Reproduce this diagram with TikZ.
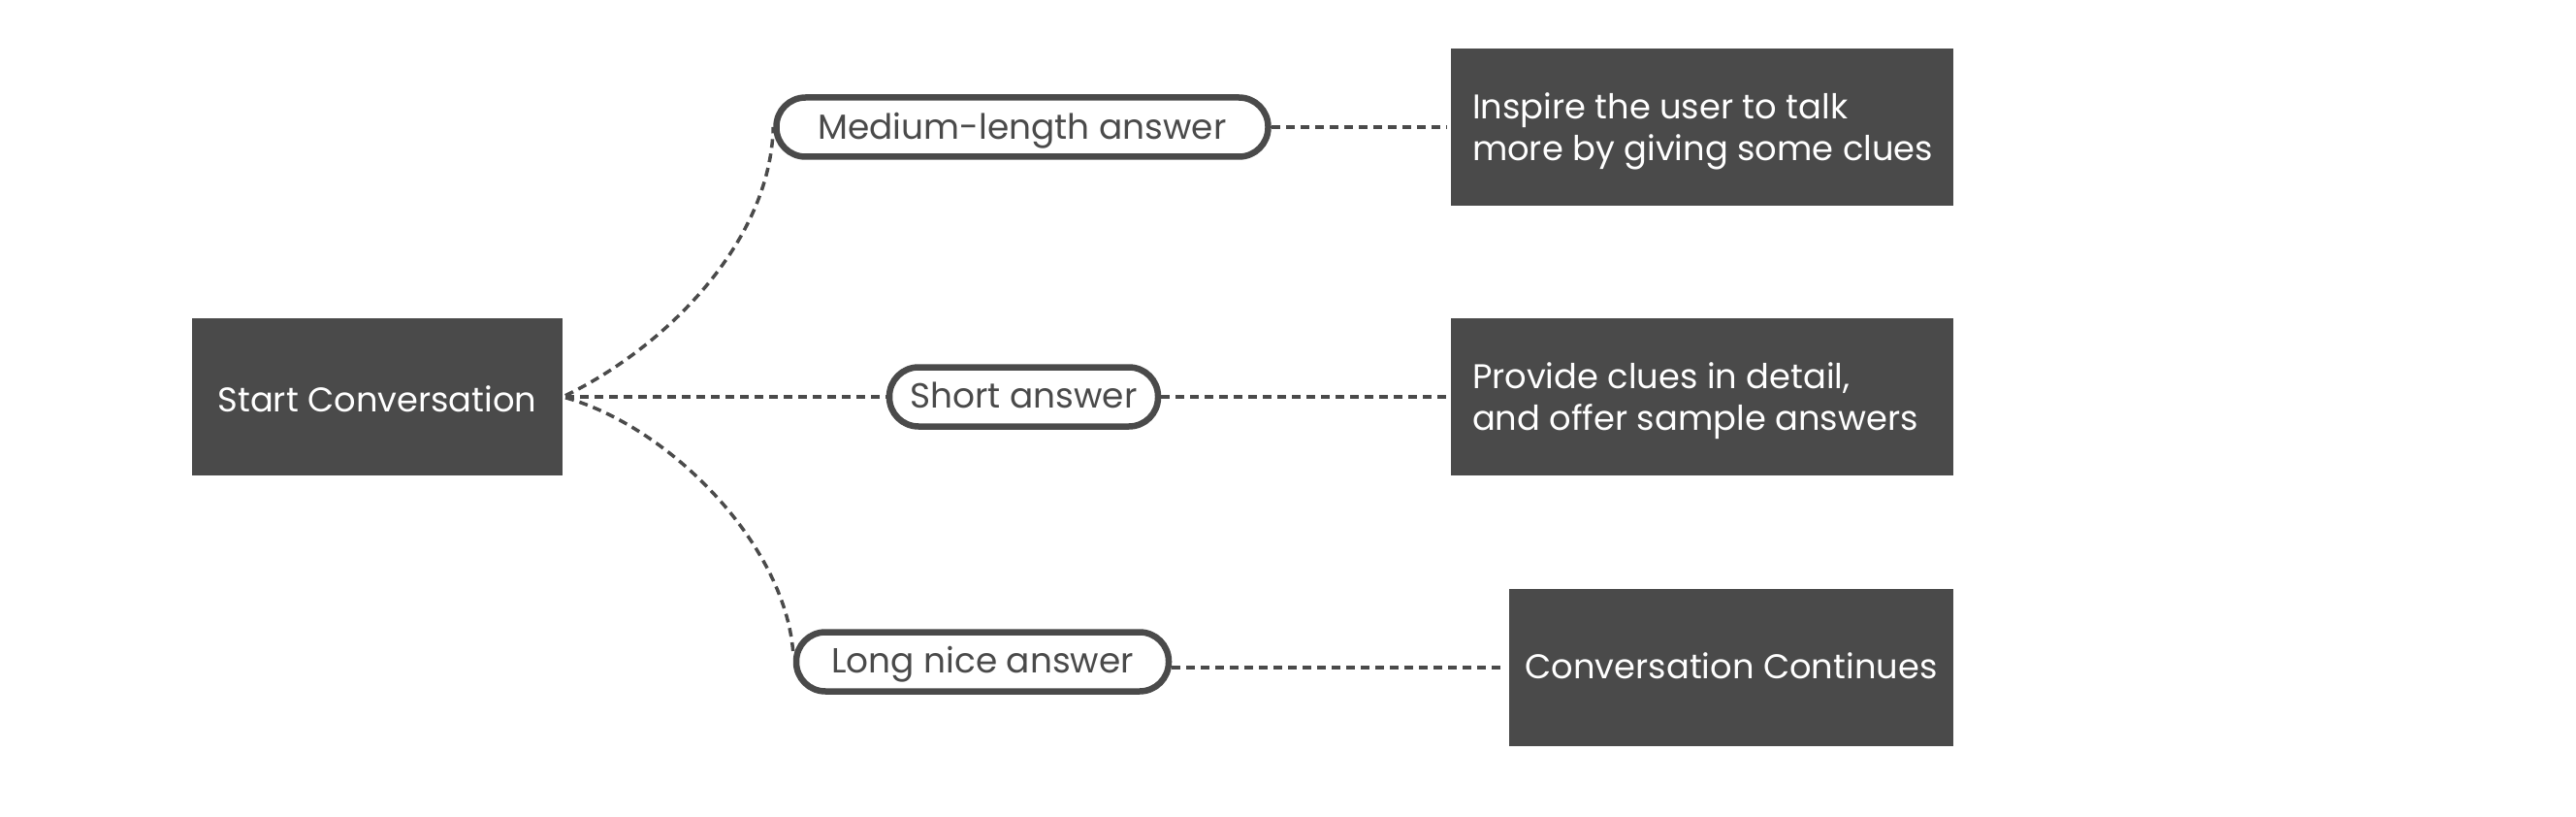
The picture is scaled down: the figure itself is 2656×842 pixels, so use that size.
\documentclass[tikz,border=0pt]{standalone}
\usepackage{fontspec}
\setmainfont{Poppins}
\definecolor{ink}{HTML}{4A4A4A}
\newlength\calw
\AtBeginDocument{%
  \settowidth\calw{\normalfont\fontsize{10pt}{12pt}\selectfont Conversation Continues}%
  \pgfmathsetmacro\boxfs{4250/\calw}%
  \global\let\boxfs\boxfs
  \settowidth\calw{\normalfont\fontsize{10pt}{12pt}\selectfont Medium-length answer}%
  \pgfmathsetmacro\pillfs{4210/\calw}%
  \global\let\pillfs\pillfs
}
\tikzset{
  darkbox/.style={fill=ink, draw=none, inner sep=0pt, minimum height=162pt,
                  text height=22pt, text depth=0pt},
  boxtext/.style={text=white, inner sep=0pt, align=left, font=\boxfont},
  pill/.style={draw=ink, line width=6.5pt, rounded corners=30pt, fill=white, text=ink,
               inner sep=0pt, minimum height=61pt, font=\pillfont,
               text height=22pt, text depth=0pt},
  conn/.style={draw=ink, line width=3.5pt, dash pattern=on 9pt off 6pt},
}
\newcommand\boxfont{\fontsize{\boxfs pt}{43pt}\selectfont}
\newcommand\pillfont{\fontsize{\pillfs pt}{43pt}\selectfont}
\begin{document}
\begin{tikzpicture}[x=1pt,y=-1pt]
\useasboundingbox (0,0) rectangle (2656,842);
\fill[white] (0,0) rectangle (2656,842);

% left box
\node[darkbox, minimum width=382pt, text=white, font=\boxfont, text height=31pt] (start) at (389,409) {Start Conversation};

% pills
\node[pill, minimum width=507pt, text height=25pt] (med) at (1054,131) {Medium-length answer\hspace{20pt}};
\node[pill, minimum width=277pt] (short) at (1055.5,409) {Short answer};
\node[pill, minimum width=384pt] (long) at (1013,682) {Long nice answer};

% right boxes
\node[darkbox, minimum width=518pt] (b1) at (1755,131) {};
\node[boxtext, anchor=west] (t1) at ([xshift=22pt,yshift=-4pt]b1.west) {Inspire the user to talk\\more by giving some clues};
\node[darkbox, minimum width=518pt] (b2) at (1755,409) {};
\node[boxtext, anchor=west] (t2) at ([xshift=22pt,yshift=-4pt]b2.west) {Provide clues in detail,\\and offer sample answers};
\node[darkbox, minimum width=458pt, text=white, font=\boxfont] (b3) at (1785,688) {Conversation Continues};

% connectors
\draw[conn, shorten <=3pt] (start.east) .. controls +(104,-50) and +(-3,120) .. (med.west);
\draw[conn, shorten <=3pt] (start.east) -- (short.west);
\draw[conn, shorten <=3pt] (start.east) .. controls +(110,31) and +(-9,-112) .. ([yshift=10pt]long.west);
\draw[conn, shorten >=5pt] (med.east) -- (b1.west);
\draw[conn, shorten >=5pt] (short.east) -- (b2.west);
\draw[conn, shorten >=5pt] (long.east |- b3.west) -- (b3.west);
\end{tikzpicture}
\end{document}
